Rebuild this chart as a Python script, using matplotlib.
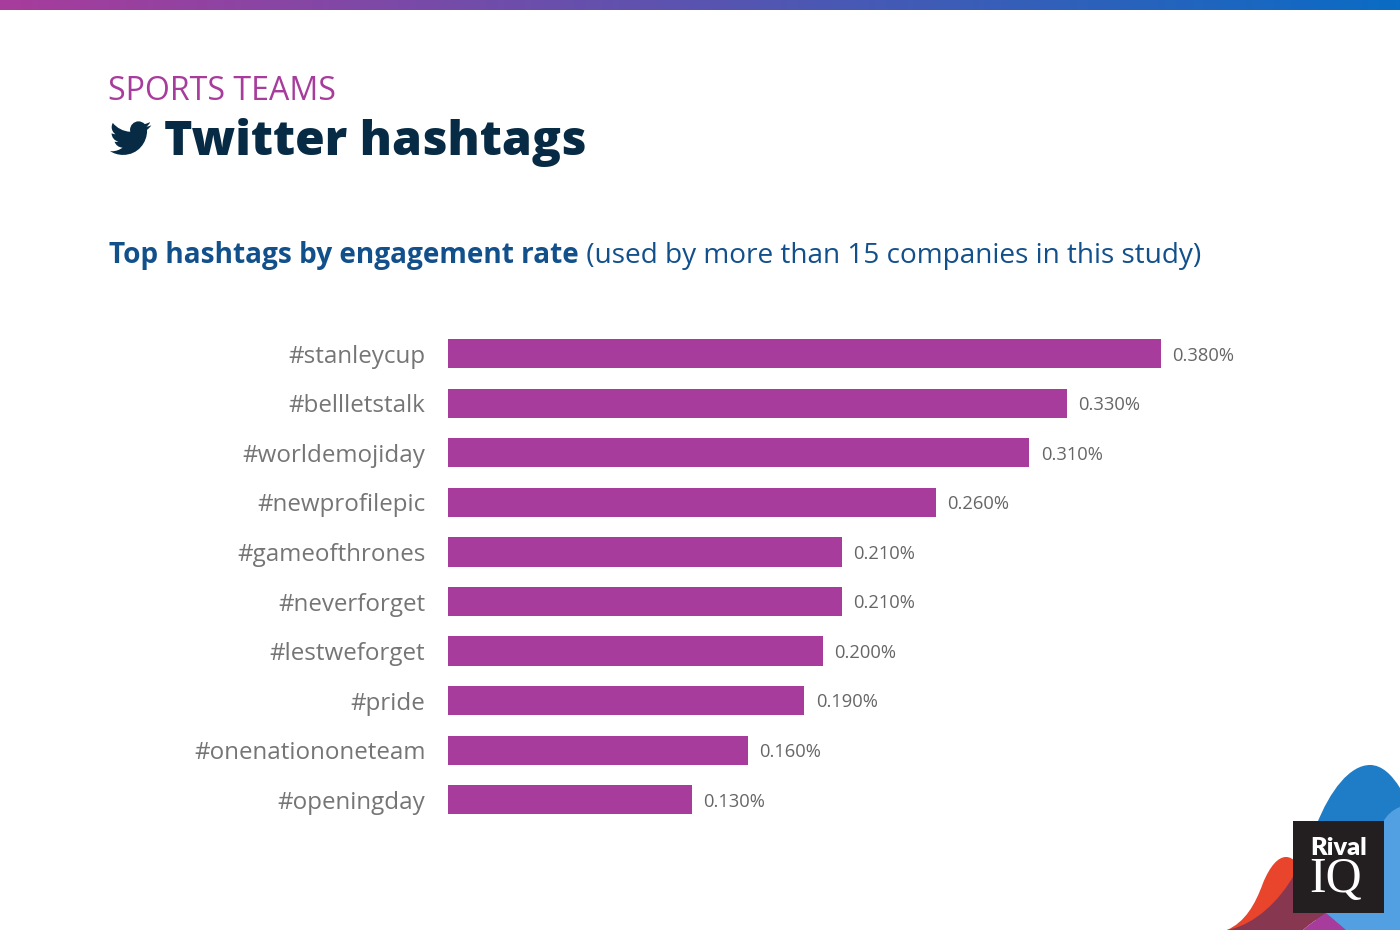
import re
import numpy as np
import matplotlib
matplotlib.use('Agg')
import matplotlib.pyplot as plt
from matplotlib.colors import LinearSegmentedColormap
from matplotlib.patches import PathPatch, Rectangle
from matplotlib.path import Path

hashtags = ['#stanleycup', '#bellletstalk', '#worldemojiday', '#newprofilepic',
            '#gameofthrones', '#neverforget', '#lestweforget', '#pride',
            '#onenationoneteam', '#openingday']
engagement = [0.380, 0.330, 0.310, 0.260, 0.210, 0.210, 0.200, 0.190, 0.160, 0.130]

W, H = 1400, 930
PURPLE = '#a83c9c'
NAVY = '#082b45'
BLUE = '#12508c'
GREY = '#757575'

plt.rcParams['font.family'] = ['Open Sans', 'DejaVu Sans']

BIRD = ("M23.954 4.569c-.885.389-1.83.654-2.825.775 1.014-.611 1.794-1.574 2.163-2.723"
        "-.951.555-2.005.959-3.127 1.184-.896-.959-2.173-1.559-3.591-1.559"
        "-2.717 0-4.92 2.203-4.92 4.917 0 .39.045.765.127 1.124"
        "C7.691 8.094 4.066 6.13 1.64 3.161c-.427.722-.666 1.561-.666 2.475"
        " 0 1.71.87 3.213 2.188 4.096-.807-.026-1.566-.248-2.228-.616v.061"
        "c0 2.385 1.693 4.374 3.946 4.827-.413.111-.849.171-1.296.171"
        "-.314 0-.615-.03-.916-.086.631 1.953 2.445 3.377 4.604 3.417"
        "-1.68 1.319-3.809 2.105-6.102 2.105-.39 0-.779-.023-1.17-.067"
        " 2.189 1.394 4.768 2.209 7.557 2.209 9.054 0 13.999-7.496 13.999-13.986"
        " 0-.209 0-.42-.015-.63.961-.689 1.8-1.56 2.46-2.548l-.047-.02z")


def svg_path(d, x0, y0, scale):
    """Small svg path reader, only what the bird uses"""
    verts, codes = [], []
    cx, cy = 0.0, 0.0
    for cmd, args in re.findall(r'([MCclvz])([^MCclvz]*)', d):
        nums = [float(n) for n in re.findall(r'-?\d*\.?\d+', args)]
        if cmd == 'M':
            cx, cy = nums
            verts.append((cx, cy))
            codes.append(Path.MOVETO)
        elif cmd in 'Cc':
            for i in range(0, len(nums), 6):
                pts = np.array(nums[i:i + 6]).reshape(3, 2)
                if cmd == 'c':
                    pts = pts + [cx, cy]
                verts.extend(map(tuple, pts))
                codes.extend([Path.CURVE4] * 3)
                cx, cy = pts[-1]
        elif cmd == 'l':
            cx, cy = cx + nums[0], cy + nums[1]
            verts.append((cx, cy))
            codes.append(Path.LINETO)
        elif cmd == 'v':
            cy = cy + nums[0]
            verts.append((cx, cy))
            codes.append(Path.LINETO)
        elif cmd == 'z':
            verts.append(verts[0])
            codes.append(Path.CLOSEPOLY)
    return Path(np.array(verts) * scale + [x0, y0], codes)


def blob(ax, pts, color, z):
    """Closed shape from a start point and cubic segments, in pixels"""
    codes = [Path.MOVETO] + [Path.CURVE4] * (len(pts) - 1)
    ax.add_patch(PathPatch(Path(pts, codes), fc=color, ec='none', zorder=z))


fig = plt.figure(figsize=(W / 100, H / 100), dpi=100, facecolor='white')

# overlay in pixel coordinates for header and logo
bg = fig.add_axes([0, 0, 1, 1])
bg.set_xlim(0, W)
bg.set_ylim(H, 0)
bg.axis('off')

cmap = LinearSegmentedColormap.from_list('topbar', [PURPLE, '#0a6cc4'])
bg.imshow(np.linspace(0, 1, 512).reshape(1, -1), cmap=cmap, aspect='auto',
          extent=(0, W, 10.5, 0), zorder=1)
bg.set_xlim(0, W)
bg.set_ylim(H, 0)

bg.text(108, 100.5, 'SPORTS TEAMS', color=PURPLE, fontsize=23.1, va='baseline')
bg.add_patch(PathPatch(svg_path(BIRD, 110, 117.5, 1.72), fc=NAVY, ec='none'))
bg.text(164.5, 155, 'Twitter hashtags', color=NAVY, fontsize=34.55, fontweight=800,
        va='baseline')

sub = bg.text(109, 263, 'Top hashtags by engagement rate', color=BLUE, fontsize=20.2,
              fontweight='bold', va='baseline')
bg.annotate(' (used by more than 15 companies in this study)', xy=(1, 0), xycoords=sub,
            color=BLUE, fontsize=20.2, va='bottom')

# logo shapes in the corner
blob(bg, [(1316, 826), (1330, 790), (1350, 765), (1370, 765),
          (1382, 765), (1392, 775), (1400, 788),
          (1400, 830), (1400, 870), (1400, 930),
          (1370, 930), (1340, 930), (1316, 930),
          (1316, 900), (1316, 860), (1316, 826)], '#1f7cc7', 2)
blob(bg, [(1400, 807), (1392, 810), (1387, 815), (1383, 822),
          (1360, 850), (1340, 885), (1325, 913),
          (1332, 918), (1340, 925), (1345, 930),
          (1365, 930), (1385, 930), (1400, 930),
          (1400, 890), (1400, 850), (1400, 807)], '#529fe2', 3)
blob(bg, [(1227, 930), (1245, 922), (1255, 905), (1263, 883),
          (1270, 866), (1278, 857), (1286, 857),
          (1290, 857), (1293, 859), (1296, 862),
          (1298, 890), (1300, 910), (1303, 930),
          (1280, 930), (1250, 930), (1227, 930)], '#e8452c', 4)
blob(bg, [(1227, 930), (1255, 925), (1280, 900), (1294, 875),
          (1305, 890), (1315, 902), (1326, 913),
          (1318, 918), (1310, 924), (1303, 930),
          (1280, 930), (1250, 930), (1227, 930)], '#873750', 5)
blob(bg, [(1303, 930), (1310, 924), (1318, 918), (1326, 913),
          (1333, 919), (1340, 925), (1346, 930),
          (1330, 930), (1315, 930), (1303, 930)], PURPLE, 6)
bg.add_patch(Rectangle((1293, 821), 91, 92, fc='#231f20', ec='none', zorder=7))
bg.text(1310, 855, 'Rival', color='white', fontsize=18.3, fontweight='heavy',
        family=['Lato', 'DejaVu Sans'], va='baseline', zorder=8)
bg.text(1309, 892, 'IQ', color='white', fontsize=36, family=['Liberation Serif'],
        va='baseline', zorder=8)

# bars, axes placed so the zero line and rows land on the reference pixels
ax = fig.add_axes([448 / W, 1 - 824.5 / H, (W - 448) / W, (824.5 - 329) / H])
ax.patch.set_alpha(0)
y = np.arange(len(hashtags))
bars = ax.barh(y, engagement, height=0.59, color=PURPLE)
ax.set_xlim(0, (W - 448) / (712.8 / 0.38))
ax.set_ylim(len(hashtags) - 0.5, -0.5)
ax.set_yticks(y, hashtags)
ax.tick_params(axis='y', length=0, pad=16.2, labelsize=17.35, labelcolor=GREY)
ax.xaxis.set_visible(False)
for spine in ax.spines.values():
    spine.set_visible(False)

for bar, val in zip(bars, engagement):
    ax.annotate(f'{val:.3f}%', xy=(val, bar.get_y() + bar.get_height() / 2),
                xytext=(8.2, -1.3), textcoords='offset points', va='center',
                fontsize=13.2, color='#666666')

fig.savefig('out.png', dpi=100)
plt.close(fig)
